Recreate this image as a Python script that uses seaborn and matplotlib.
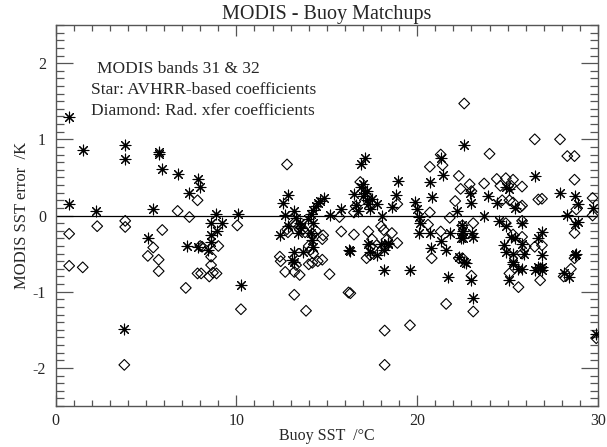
import numpy as np
import pandas as pd
import matplotlib
matplotlib.use("Agg")
import matplotlib.pyplot as plt
import seaborn as sns
from matplotlib.ticker import MultipleLocator

# ==========================
# Data
# ==========================

# Star: AVHRR-based coefficients
star_sst = [0.75, 0.75, 1.5, 2.25, 3.85, 3.85, 3.8, 5.7, 5.7, 5.9, 6.75, 5.4, 5.1,
            7.85, 8.0, 7.4, 7.25, 7.85, 8.85, 10.1, 8.6, 8.6, 8.6, 8.45, 9.2, 8.95,
            10.25, 12.4, 12.85, 12.6, 12.7, 13.2, 12.85, 13.3, 13.5, 13.6, 13.4,
            13.95, 14.1, 14.25, 14.4, 14.5, 14.65, 14.85, 14.25, 14.1, 14.2, 14.25,
            13.2, 13.1, 13.7, 13.2, 15.15, 15.8, 16.2, 16.5, 16.9, 17.0, 17.1, 17.2,
            17.3, 17.4, 17.0, 17.25, 17.5, 16.6, 16.7, 17.8, 18.05, 18.6, 18.85,
            18.95, 17.1, 16.9, 17.3, 17.4, 17.8, 18.15, 18.4, 18.15, 19.6, 16.3,
            21.3, 21.4, 20.7, 20.8, 19.9, 20.0, 20.1, 20.15, 20.1, 20.7, 20.75, 21.3,
            21.6, 21.8, 22.2, 22.5, 22.55, 22.55, 22.6, 18.0, 18.4, 21.7, 22.3, 22.6,
            22.9, 23.0, 23.9, 24.4, 24.9, 25.1, 25.4, 23.7, 24.5, 24.9, 25.8, 22.5,
            22.4, 23.05, 23.1, 25.2, 25.4, 26.9, 26.7, 28.7, 28.9, 24.8, 24.9, 25.8,
            25.9, 26.9, 25.3, 25.3, 28.8, 28.7, 22.7, 26.7, 26.9, 25.8, 23.0, 23.1,
            25.1, 25.3, 25.6, 26.5, 26.8, 26.9, 28.1, 28.4, 29.9, 26.5, 27.9, 28.7,
            28.9, 29.7, 28.3]
star_err = [1.29, 0.15, 0.86, 0.06, 0.93, 0.74, -1.49, 0.84, 0.81, 0.61, 0.55, 0.08,
            -0.30, 0.48, 0.37, 0.29, -0.40, -0.41, 0.02, 0.02, -0.10, -0.25, -0.35,
            -0.45, -0.10, -0.20, -0.91, -0.26, 0.27, 0.17, 0.01, 0.06, -0.14, -0.03,
            -0.10, -0.17, -0.23, -0.05, 0.02, 0.07, 0.12, 0.17, 0.19, 0.23, -0.10,
            -0.23, -0.32, -0.41, -0.48, -0.59, -0.48, -0.61, 0.01, 0.08, -0.45, 0.28,
            0.38, 0.41, 0.30, 0.20, 0.15, 0.08, 0.25, 0.32, 0.22, 0.14, 0.06, 0.15,
            0.00, 0.11, 0.27, 0.45, 0.75, 0.67, -0.37, -0.48, -0.52, -0.45, -0.37,
            -0.71, -0.71, -0.46, 0.76, 0.53, 0.44, 0.24, 0.18, 0.08, -0.02, -0.10,
            -0.23, -0.23, -0.43, -0.34, -0.45, -0.23, 0.06, -0.12, -0.20, -0.30, 0.92,
            -0.37, -0.36, -0.81, -0.55, -0.61, 0.29, 0.17, 0.25, 0.17, 0.37, 0.35,
            0.10, 0.00, -0.07, -0.14, -0.10, -0.23, -0.30, -0.23, -0.28, -0.28, -0.30,
            -0.22, -0.30, -0.11, -0.09, -0.39, -0.48, -0.37, -0.50, -0.52, -0.50,
            -0.61, -0.50, -0.52, -0.62, -0.68, -0.68, -0.70, -0.85, -1.08, -0.84,
            -0.63, -0.70, -0.71, -0.69, -0.72, -0.76, -0.81, -1.55, 0.52, 0.29, 0.25,
            0.15, 0.10, 0.01]

# Diamond: Rad. xfer coefficients
diamond_sst = [0.75, 2.3, 3.85, 3.85, 5.9, 5.4, 5.1, 5.7, 6.75, 7.4, 7.85, 8.0, 0.75,
               1.5, 5.7, 7.2, 7.85, 3.8, 10.05, 8.1, 9.0, 8.6, 8.6, 8.7, 8.5, 8.9,
               8.05, 10.25, 12.8, 12.4, 12.45, 12.8, 12.85, 13.2, 13.5, 13.7, 13.8,
               14.2, 14.4, 14.8, 14.75, 14.1, 14.25, 14.0, 12.7, 13.2, 13.5, 13.3,
               14.0, 14.2, 14.5, 14.75, 15.15, 13.2, 13.85, 15.8, 16.5, 15.7, 16.5,
               16.6, 16.2, 16.85, 17.3, 17.5, 17.4, 18.0, 18.15, 18.6, 17.2, 17.4,
               17.55, 18.3, 18.2, 18.9, 18.9, 20.7, 20.6, 21.3, 20.8, 21.8, 22.3, 22.6,
               20.7, 21.3, 21.4, 22.3, 22.4, 22.1, 16.3, 18.2, 19.6, 18.2, 21.6, 26.5,
               27.9, 24.0, 28.3, 28.7, 28.7, 22.9, 23.7, 24.4, 24.9, 25.3, 24.6, 25.2,
               25.8, 23.0, 24.7, 25.1, 25.3, 25.8, 25.7, 26.7, 26.9, 29.7, 28.8, 29.7,
               23.1, 24.9, 25.8, 28.7, 22.5, 25.3, 25.8, 26.9, 26.5, 26.0, 25.8, 28.7,
               22.5, 28.5, 23.0, 23.1, 25.1, 25.6, 26.8, 28.1, 29.9]
diamond_err = [-0.24, -0.14, -0.07, -0.15, -0.19, -0.42, -0.53, -0.58, 0.06, -0.02,
               0.20, -0.40, -0.66, -0.68, -0.73, -0.95, -0.76, -1.96, -0.13, -0.41,
               -0.40, -0.54, -0.65, -0.75, -0.80, -0.76, -0.76, -1.23, 0.67, -0.54,
               -0.60, -0.18, -0.22, -0.10, -0.14, -0.18, -0.22, -0.24, -0.20, -0.26,
               -0.31, -0.45, -0.50, -0.40, -0.74, -0.74, -0.78, -0.65, -0.64, -0.62,
               -0.60, -0.58, -0.77, -1.04, -1.25, -0.21, -0.25, -0.02, 0.04, 0.12,
               -1.01, 0.44, -0.21, -0.31, -0.41, -0.14, -0.19, -0.23, -0.56, -0.52,
               -0.43, -0.32, -0.41, -0.36, 0.15, 0.04, -0.12, -0.21, -0.56, -0.03,
               -0.56, 1.47, 0.64, 0.80, 0.66, 0.52, 0.35, 0.19, -1.02, -1.51, -1.44,
               -1.96, -1.16, 1.00, 1.00, 0.81, 0.78, 0.78, 0.47, 0.41, 0.42, 0.48,
               0.49, 0.47, 0.39, 0.39, 0.38, 0.32, 0.20, 0.20, 0.17, 0.13, 0.11, 0.21,
               0.22, 0.23, 0.08, 0.00, -0.10, -0.10, -0.07, -0.23, -0.13, -0.25, -0.28,
               -0.39, -0.41, -0.41, -0.50, -0.56, -0.56, -0.70, -0.79, -1.26, -0.76,
               -0.94, -0.85, -0.80, -1.61]

x_ticks = [0, 10, 20, 30]
y_ticks = [-2, -1, 0, 1, 2]

notes = ["MODIS bands 31 & 32",
         "Star: AVHRR-based coefficients",
         "Diamond: Rad. xfer coefficients"]

stars = pd.DataFrame({"sst": star_sst, "err": star_err})
diamonds = pd.DataFrame({"sst": diamond_sst, "err": diamond_err})

# ==========================
# Plot
# ==========================

sns.set_style("ticks")
plt.rcParams["font.family"] = ["Liberation Serif", "DejaVu Serif"]
plt.rcParams["axes.unicode_minus"] = False

fig = plt.figure(figsize=(6.07, 4.47), dpi=100)
ax = fig.add_axes([0.0916, 0.0917, 0.8936, 0.8523])

ax.axhline(0, color="black", linewidth=0.9, zorder=1)

sns.scatterplot(data=diamonds, x="sst", y="err", ax=ax, marker="D", s=30,
                color="black", facecolor="none", edgecolor="black",
                linewidth=0.8, zorder=2)
sns.scatterplot(data=stars, x="sst", y="err", ax=ax, marker=(8, 2, 0), s=60,
                color="black", edgecolor="black", linewidth=0.8, zorder=3)

ax.set_xlim(0, 30)
ax.set_ylim(-2.5, 2.5)
ax.set_xticks(x_ticks)
ax.set_yticks(y_ticks)
ax.xaxis.set_minor_locator(MultipleLocator(1))
ax.yaxis.set_minor_locator(MultipleLocator(0.1))
ax.tick_params(which="both", direction="in", top=True, right=True,
               color="#555555", width=0.9, labelsize=11.5)
ax.tick_params(which="major", axis="x", length=8, pad=5)
ax.tick_params(which="minor", axis="x", length=4)
ax.tick_params(which="major", axis="y", length=12, pad=7)
ax.tick_params(which="minor", axis="y", length=6)
for sp in ax.spines.values():
    sp.set_color("#555555")
    sp.set_linewidth(1.0)

ax.set_title("MODIS - Buoy Matchups", fontsize=14.5, pad=4)
ax.set_xlabel("Buoy SST  /\u00b0C", fontsize=11.5, labelpad=-1)
ax.set_ylabel("MODIS SST error  /K", fontsize=12, labelpad=2)

ax.text(2.3, 1.92, notes[0], fontsize=12.5, va="center", ha="left")
ax.text(1.95, 1.65, notes[1], fontsize=12.5, va="center", ha="left")
ax.text(1.95, 1.37, notes[2], fontsize=12.5, va="center", ha="left")

fig.savefig("out.png", dpi=100)
